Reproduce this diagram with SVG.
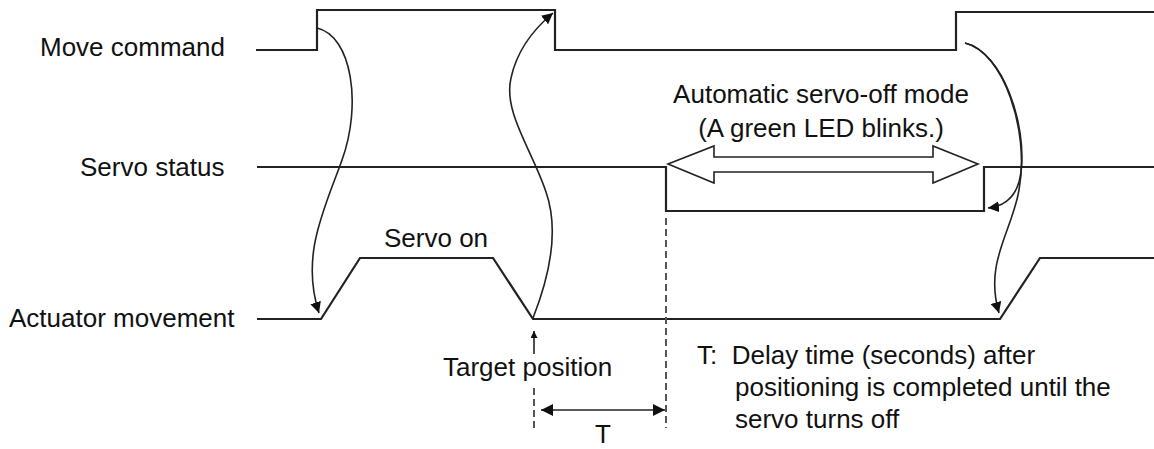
<svg xmlns="http://www.w3.org/2000/svg" width="1154" height="449" viewBox="0 0 1154 449">
<style>
text{font-family:"Liberation Sans",Arial,sans-serif;font-size:26px;fill:#111}
.pre{white-space:pre}
.sig{fill:none;stroke:#222;stroke-width:2.2}
.cur{fill:none;stroke:#222;stroke-width:1.6}
.dash{fill:none;stroke:#555;stroke-width:2;stroke-dasharray:7,4}
</style>
<defs>
<marker id="ah" viewBox="0 0 10 10" refX="10" refY="5" markerWidth="11" markerHeight="11" markerUnits="userSpaceOnUse" orient="auto">
<path d="M0,0 L10,5 L0,10 z" fill="#111"/>
</marker>
<marker id="ah2" viewBox="0 0 10 10" refX="10" refY="5" markerWidth="12" markerHeight="12" markerUnits="userSpaceOnUse" orient="auto-start-reverse">
<path d="M0,0 L10,5 L0,10 z" fill="#111"/>
</marker>
<marker id="ahs" viewBox="0 0 10 10" refX="10" refY="5" markerWidth="7" markerHeight="7" markerUnits="userSpaceOnUse" orient="auto">
<path d="M0,0 L10,5 L0,10 z" fill="#111"/>
</marker>
</defs>
<g id="move-command">
<text x="40" y="56">Move command</text>
<path class="sig" d="M256,50 H317 V10 H555 V50 H956 V12 H1154"/>
</g>
<g id="servo-status">
<text x="80" y="176">Servo status</text>
<path class="sig" d="M257,167 H666 V211 H984 V167 H1154"/>
<text x="384" y="247">Servo on</text>
</g>
<g id="actuator-movement">
<text x="9" y="327">Actuator movement</text>
<path class="sig" d="M257,319 H321 L360,258 H493 L533,319 H1000 L1040,258 H1154"/>
</g>
<g id="auto-servo-off">
<text x="821" y="103" text-anchor="middle">Automatic servo-off mode</text>
<text x="821" y="137" text-anchor="middle">(A green LED blinks.)</text>
<polygon points="668,164 714,146 714,157 933,157 933,146 978,164 933,183 933,172 714,172 714,183" fill="#fff" stroke="#222" stroke-width="1.6"/>
</g>
<g id="target-position">
<text x="443" y="376">Target position</text>
</g>
<g id="delay-note">
<text class="pre" x="697" y="364" xml:space="preserve">T:  Delay time (seconds) after</text>
<text x="735" y="396">positioning is completed until the</text>
<text x="735" y="428">servo turns off</text>
<text x="603" y="443" text-anchor="middle">T</text>
</g>
<g id="connectors">
<path class="cur" d="M317,28 C352,36 362,105 342,160 C325,208 300,255 319,313" marker-end="url(#ah)"/>
<path class="cur" d="M533,318 C548,280 560,232 546,192 C532,150 503,112 511,78 C517,50 535,28 553,13" marker-end="url(#ah)"/>
<path class="cur" d="M965,43 C1003,52 1027,125 1021,172 C1018,196 1006,206 988,208" marker-end="url(#ah)"/>
<path class="cur" d="M965,43 C1003,52 1030,130 1019,190 C1012,232 984,262 999,313" marker-end="url(#ah)"/>
<path class="cur" d="M534,354 V331" marker-end="url(#ahs)"/>
<path class="dash" d="M534,388 V428"/>
<path class="dash" d="M666,218 V428"/>
<path class="cur" d="M541,410 H665" marker-start="url(#ah2)" marker-end="url(#ah2)"/>
</g>
</svg>
